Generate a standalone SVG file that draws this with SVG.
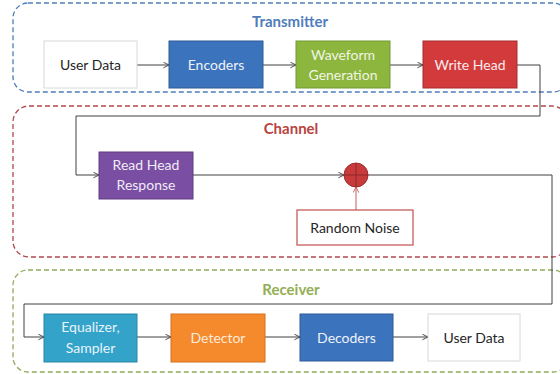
<svg xmlns="http://www.w3.org/2000/svg" width="560" height="374" viewBox="0 0 560 374">
<defs>
<marker id="arr" viewBox="0 0 10 10" refX="9" refY="5" markerWidth="7" markerHeight="7" orient="auto" markerUnits="userSpaceOnUse">
<path d="M1,1 L9,5 L1,9" fill="none" stroke="#404040" stroke-width="1.3"/>
</marker>
<marker id="arrR" viewBox="0 0 10 10" refX="9" refY="5" markerWidth="7" markerHeight="7" orient="auto" markerUnits="userSpaceOnUse">
<path d="M1,1 L9,5 L1,9" fill="none" stroke="#C06060" stroke-width="1.3"/>
</marker>
</defs>
<style>
.grp{fill:none;stroke-width:1.3;stroke-dasharray:5 3}
.title{font-family:Lato,"Liberation Sans",sans-serif;font-weight:bold;font-size:15px;text-anchor:middle}
.lbl{font-family:Lato,"Liberation Sans",sans-serif;font-size:14px;text-anchor:middle}
.dark{fill:#262626}
.light{fill:#EEF2F8}
.wire{fill:none;stroke:#404040;stroke-width:1}
</style>
<rect width="560" height="374" fill="#ffffff"/>
<g id="transmitter">
<rect class="grp" x="13" y="3" width="555" height="89" rx="15" stroke="#4F7DBA"/>
<text class="title" x="290" y="27" fill="#4F7DBA">Transmitter</text>
</g>
<g id="channel">
<rect class="grp" x="13" y="106" width="555" height="151" rx="16" stroke="#B0484C"/>
<text class="title" x="291" y="134" fill="#B8433F">Channel</text>
</g>
<g id="receiver">
<rect class="grp" x="13" y="270" width="555" height="102" rx="15" stroke="#94AA5C"/>
<text class="title" x="291" y="295" fill="#93AE55">Receiver</text>
</g>
<g id="connectors">
<line class="wire" x1="137" y1="65" x2="169" y2="65" marker-end="url(#arr)"/>
<line class="wire" x1="263" y1="65" x2="296" y2="65" marker-end="url(#arr)"/>
<line class="wire" x1="390" y1="65" x2="423" y2="65" marker-end="url(#arr)"/>
<polyline class="wire" points="517,65 540,65 540,116 76,116 76,175 99,175" marker-end="url(#arr)"/>
<line class="wire" x1="193" y1="175" x2="344" y2="175" marker-end="url(#arr)"/>
<line x1="356" y1="210" x2="356" y2="187" stroke="#C06060" stroke-width="1" marker-end="url(#arrR)"/>
<polyline class="wire" points="368,175 552,175 552,304 24,304 24,337 44,337" marker-end="url(#arr)"/>
<line class="wire" x1="137" y1="337" x2="171" y2="337" marker-end="url(#arr)"/>
<line class="wire" x1="265" y1="337" x2="300" y2="337" marker-end="url(#arr)"/>
<line class="wire" x1="393" y1="337" x2="428" y2="337" marker-end="url(#arr)"/>
</g>
<g id="user-data-in">
<rect x="44" y="41" width="93" height="47" fill="#ffffff" stroke="#D8D8D8" stroke-width="1"/>
<text class="lbl dark" x="90.5" y="70">User Data</text>
</g>
<g id="encoders">
<rect x="169" y="41" width="94" height="47" fill="#3C73BD" stroke="#2D5A96" stroke-width="1"/>
<text class="lbl light" x="216" y="70">Encoders</text>
</g>
<g id="waveform">
<rect x="296" y="41" width="94" height="47" fill="#8DB63E" stroke="#739A34" stroke-width="1"/>
<text class="lbl" x="343" y="60" fill="#F0F5E4">Waveform</text>
<text class="lbl" x="343" y="80" fill="#F0F5E4">Generation</text>
</g>
<g id="write-head">
<rect x="423" y="41" width="94" height="47" fill="#D23A3C" stroke="#A52C2E" stroke-width="1"/>
<text class="lbl" x="470" y="70" fill="#F8ECEC">Write Head</text>
</g>
<g id="read-head">
<rect x="99" y="152" width="94" height="47" fill="#7A4EA3" stroke="#5E3C80" stroke-width="1"/>
<text class="lbl" x="146" y="170" fill="#F0ECF5">Read Head</text>
<text class="lbl" x="146" y="190" fill="#F0ECF5">Response</text>
</g>
<g id="sum">
<circle cx="356" cy="175" r="12" fill="#C83B3D" stroke="#9E2E30" stroke-width="1"/>
<line x1="344" y1="175" x2="368" y2="175" stroke="#8E2628" stroke-width="1"/>
<line x1="356" y1="163" x2="356" y2="187" stroke="#8E2628" stroke-width="1"/>
</g>
<g id="random-noise">
<rect x="297" y="210" width="116" height="35" fill="#ffffff" stroke="#C0504D" stroke-width="1.2"/>
<text class="lbl dark" x="355" y="233">Random Noise</text>
</g>
<g id="equalizer">
<rect x="44" y="314" width="93" height="48" fill="#33A3C9" stroke="#2A85A6" stroke-width="1"/>
<text class="lbl" x="90.5" y="332" fill="#E8F4F9">Equalizer,</text>
<text class="lbl" x="90.5" y="353" fill="#E8F4F9">Sampler</text>
</g>
<g id="detector">
<rect x="171" y="314" width="94" height="48" fill="#F58A2D" stroke="#D27020" stroke-width="1"/>
<text class="lbl" x="218" y="343" fill="#FCEBDB">Detector</text>
</g>
<g id="decoders">
<rect x="300" y="314" width="93" height="47" fill="#3C73BD" stroke="#2D5A96" stroke-width="1"/>
<text class="lbl light" x="346.5" y="343">Decoders</text>
</g>
<g id="user-data-out">
<rect x="428" y="314" width="92" height="47" fill="#ffffff" stroke="#D8D8D8" stroke-width="1"/>
<text class="lbl dark" x="474" y="343">User Data</text>
</g>
</svg>
